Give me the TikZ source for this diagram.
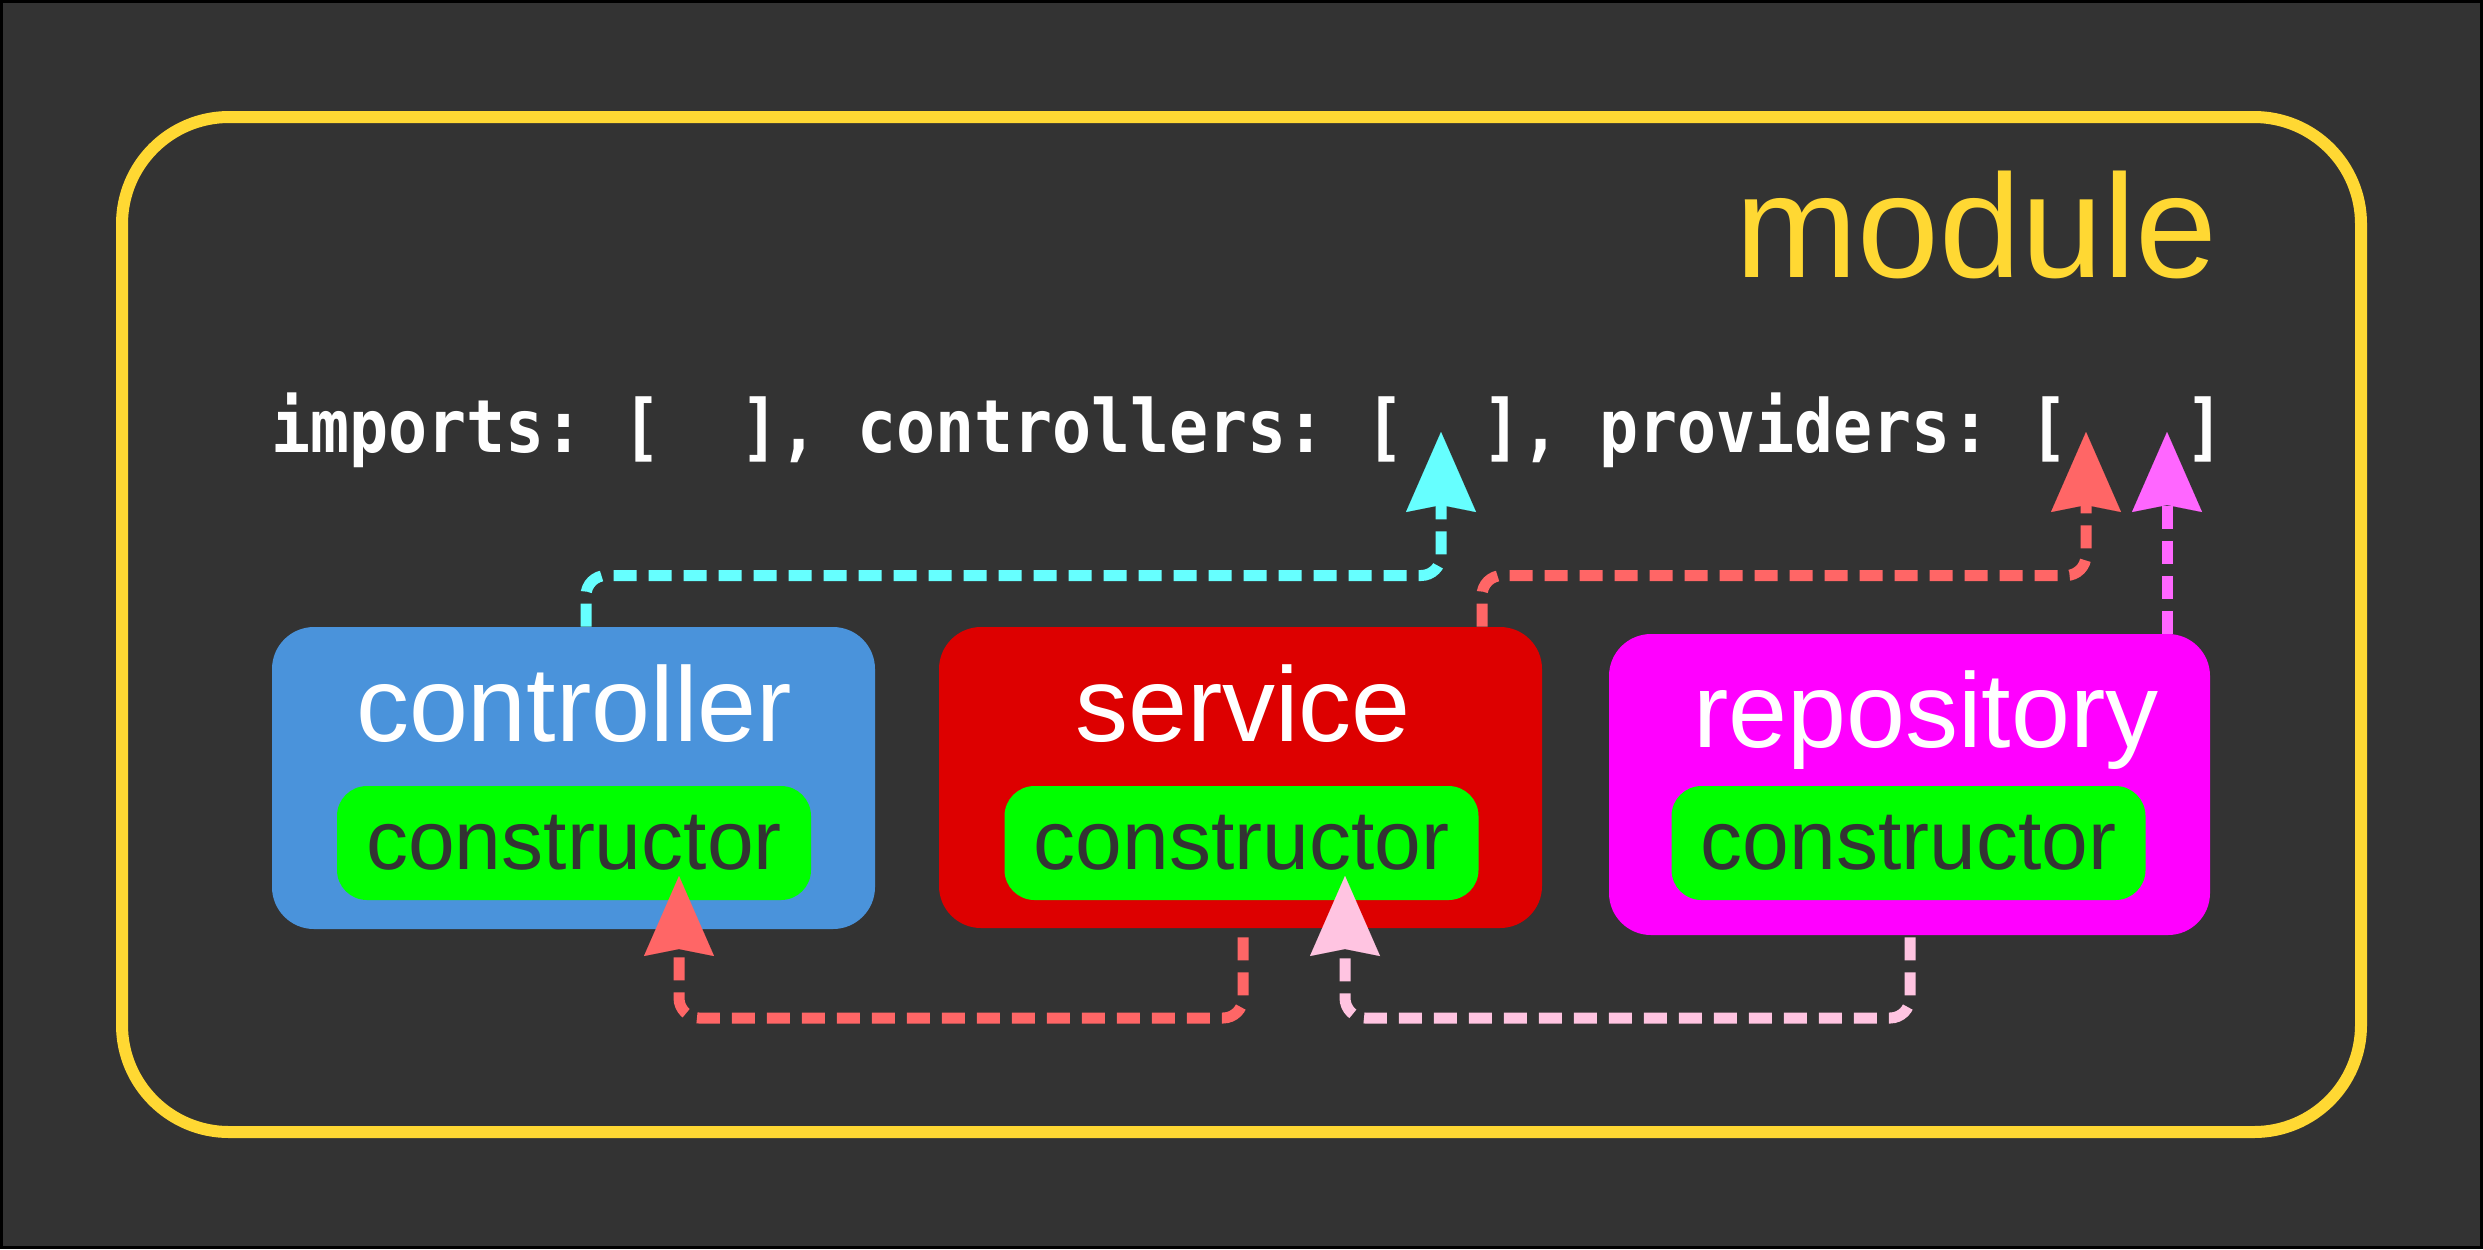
\documentclass[tikz,border=0pt]{standalone}
\usepackage{fontspec}
\setmainfont{Liberation Sans}
\newfontfamily\codefont[FakeStretch=0.884]{DejaVu Sans Mono}
\usetikzlibrary{arrows.meta}
\definecolor{bgc}{HTML}{333333}
\definecolor{yel}{HTML}{FFD833}
\definecolor{boxblue}{HTML}{4A93DB}
\definecolor{boxred}{HTML}{DD0000}
\definecolor{boxmag}{HTML}{FF00FF}
\definecolor{ctorgreen}{HTML}{00FF00}
\definecolor{lcyan}{HTML}{66FFFF}
\definecolor{lred}{HTML}{FF6666}
\definecolor{lmag}{HTML}{FF66FF}
\definecolor{lpink}{HTML}{FFC4E1}
\tikzset{
  modbox/.style={draw=yel, line width=6pt, rounded corners=53.5pt, minimum width=1119.5pt, minimum height=507.5pt, inner sep=0pt},
  bigbox/.style={rounded corners=21pt, inner sep=0pt, minimum width=301.5pt, minimum height=151pt},
  ctor/.style={fill=ctorgreen, rounded corners=15pt, inner sep=0pt, minimum width=237pt, minimum height=57pt, text=bgc, font=\fontsize{42pt}{48pt}\selectfont},
  title/.style={anchor=base, inner sep=0pt, text=white, font=\fontsize{53pt}{60pt}\selectfont},
  link/.style={line width=5.5pt, dash pattern=on 11.5pt off 6pt, rounded corners=10pt,
    -{Stealth[length=40pt, width=35pt, inset=3.5pt, line width=0.01pt]}},
}
\begin{document}
\begin{tikzpicture}[x=0.5pt, y=-0.5pt]
\useasboundingbox (0,0) rectangle (2483,1249);
\fill[black] (0,0) rectangle (2483,1249);
\fill[bgc] (3,3) rectangle (2480,1246);

\node[modbox] (module) at (1241.5,624.5) {};
\node[anchor=base east, inner sep=0pt, text=yel, font=\fontsize{73.5pt}{80pt}\selectfont] (modT) at (2218,277) {module};

\node[anchor=base west, inner sep=0pt, text=white, font=\codefont\bfseries\fontsize{36.7pt}{40pt}\selectfont] (code) at (271,452)
  {imports:~[~~],~controllers:~[~~],~providers:~[~~~]};

\node[bigbox, fill=boxblue] (ctrl) at (573.5,778) {};
\node[bigbox, fill=boxred, minimum height=150.5pt] (svc) at (1240.5,777.5) {};
\node[bigbox, fill=boxmag, minimum width=300.5pt, minimum height=150.5pt] (repo) at (1909.5,784.5) {};

\node[title] (ctrlT) at (574,741) {controller};
\node[title] (svcT) at (1243,741) {service};
\node[title] (repoT) at (1926,747) {repository};

\node[ctor] (ctrlC) at (574,843) {constructor};
\node[ctor] (svcC) at (1241.5,843) {constructor};
\node[ctor] (repoC) at (1908.5,843) {constructor};

\coordinate (xC) at (586,0);
\coordinate (xS) at (1482,0);
\coordinate (xSb) at (1243,0);
\coordinate (xRb) at (1910,0);
\coordinate (hiY) at (0,575.5);
\coordinate (loY) at (0,1018);
\coordinate (tC) at (1441,432);
\coordinate (tS) at (2086,432);
\coordinate (tR) at (2167,432);
\coordinate (tCc) at (679,876);
\coordinate (tSc) at (1345,876);

\draw[link, lcyan] (xC |- ctrl.north) -- (xC |- hiY) -- (tC |- hiY) -- (tC);
\draw[link, lred] (xS |- svc.north) -- (xS |- hiY) -- (tS |- hiY) -- (tS);
\draw[link, lmag] (tR |- repo.north) -- (tR);
\draw[link, lred, shorten <=4.5pt] (xSb |- svc.south) -- (xSb |- loY) -- (tCc |- loY) -- (tCc);
\draw[link, lpink, shorten <=1pt] (xRb |- repo.south) -- (xRb |- loY) -- (tSc |- loY) -- (tSc);
\end{tikzpicture}
\end{document}
